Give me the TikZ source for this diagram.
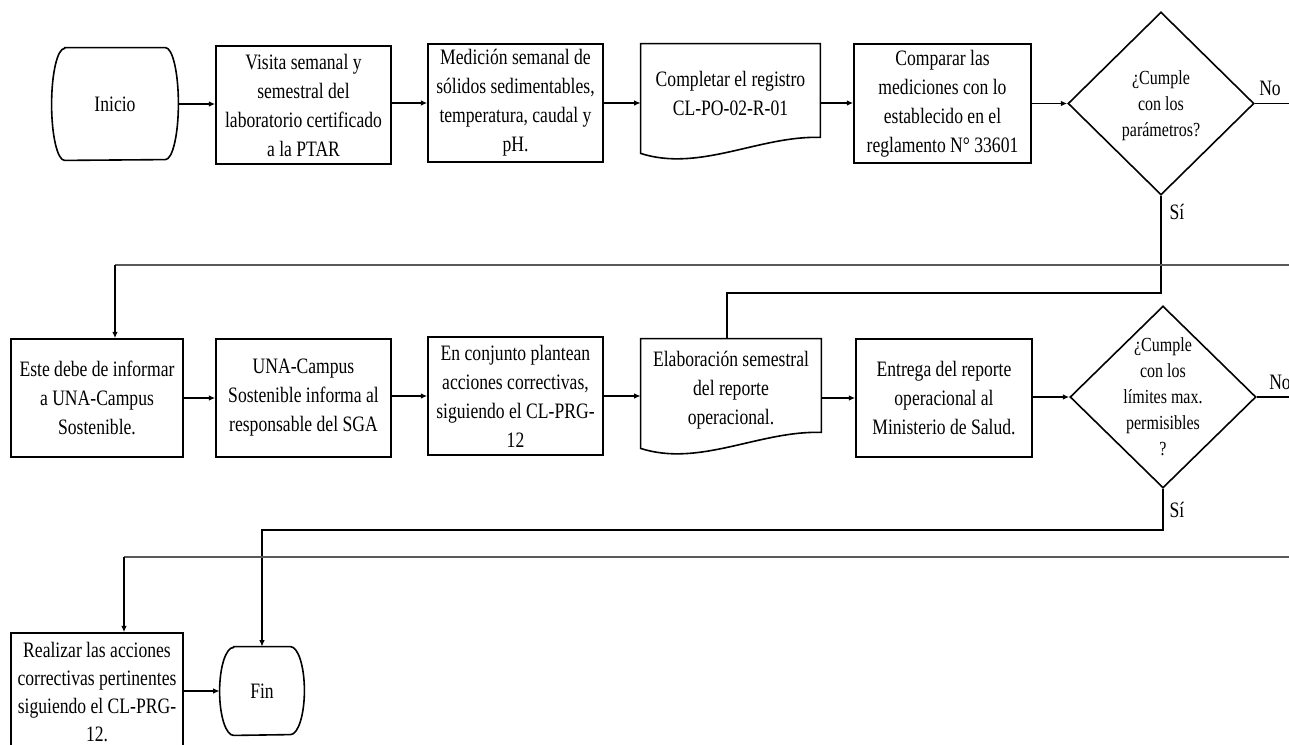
\documentclass[tikz,border=0pt]{standalone}
\usepackage{fontspec}
\setmainfont{Liberation Serif}[FakeStretch=0.8]
\usetikzlibrary{arrows.meta,shapes.geometric}
\newcommand\bxfont{\fontsize{11}{14.5}\selectfont}
\newcommand\dmfont{\fontsize{10}{13}\selectfont}
\tikzset{
  outl/.style={draw, line width=0.8pt},
  box/.style={outl, minimum width=87.5pt, minimum height=59pt, inner sep=0pt, align=center, font=\bxfont},
  hold/.style={minimum width=89.5pt, minimum height=59pt, inner sep=0pt},
  term/.style={inner sep=0pt, font=\bxfont},
  dec/.style={outl, diamond, minimum width=93pt, minimum height=91pt, inner sep=0pt},
  dtxt/.style={align=center, font=\dmfont, inner sep=0pt},
  doctxt/.style={align=center, font=\bxfont, inner sep=0pt, yshift=5pt},
  lbl/.style={font=\bxfont, inner sep=0pt},
  conn/.style={line width=0.7pt},
  arr/.style={conn, -{Latex[length=3.2pt,width=2.8pt]}},
  back/.style={line width=0.9pt, black!65},
}
\begin{document}
\begin{tikzpicture}[x=0.5pt,y=-0.5pt]
\useasboundingbox (0,0) rectangle (1289,744);
\clip (0,0) rectangle (1289,744);

% ---- first row ----
\node[term, minimum width=63pt, minimum height=56pt] (inicio) at (115,104) {Inicio};
\draw[outl] ([xshift=6.5pt]inicio.north west) -- ([xshift=-6.5pt]inicio.north east)
  arc[start angle=90, end angle=-90, x radius=6.5pt, y radius=28pt]
  -- ([xshift=6.5pt]inicio.south west)
  arc[start angle=270, end angle=90, x radius=6.5pt, y radius=28pt] -- cycle;

\node[box] (visita) at (303.5,105) {Visita semanal y\\semestral del\\laboratorio certificado\\a la PTAR};
\node[box] (medicion) at (515.5,103) {Medición semanal de\\sólidos sedimentables,\\temperatura, caudal y\\pH.};

\node[hold, label={[doctxt, name=registrotxt]center:{Completar el registro\\CL-PO-02-R-01}}] (registro) at (730.5,103) {};
\draw[outl] ([yshift=4.5pt]registro.south west) -- (registro.north west) -- (registro.north east)
  -- ([yshift=12.5pt]registro.south east)
  .. controls ([xshift=59.5pt,yshift=13.5pt]registro.south west) and ([xshift=29.5pt,yshift=-5pt]registro.south west)
  .. ([yshift=4.5pt]registro.south west) -- cycle;

\node[box, minimum width=88.5pt, minimum height=59.5pt] (comparar) at (942.5,103.5) {Comparar las\\mediciones con lo\\establecido en el\\reglamento N° 33601};

\node[dec, minimum height=91.5pt, label={[dtxt, yshift=-1pt, name=dec1txt]center:{¿Cumple\\con los\\parámetros?}}] (dec1) at (1161,103.5) {};
\node[lbl] (no1) at (1270,88) {No};
\node[lbl] (si1) at (1177,212) {Sí};

% ---- second row ----
\node[box, minimum width=86pt] (informar) at (97,398) {Este debe de informar\\a UNA-Campus\\Sostenible.};
\node[box] (campus) at (303.5,398) {UNA-Campus\\Sostenible informa al\\responsable del SGA};
\node[box] (conjunto) at (515.5,396) {En conjunto plantean\\acciones correctivas,\\siguiendo el CL-PRG-\\12};

\node[hold, minimum width=90pt, label={[doctxt, yshift=-1pt, name=reportetxt]center:{Elaboración semestral\\del reporte\\operacional.}}] (reporte) at (731,398) {};
\draw[outl] ([yshift=4.5pt]reporte.south west) -- (reporte.north west) -- (reporte.north east)
  -- ([yshift=12.5pt]reporte.south east)
  .. controls ([xshift=59.5pt,yshift=13.5pt]reporte.south west) and ([xshift=29.5pt,yshift=-5pt]reporte.south west)
  .. ([yshift=4.5pt]reporte.south west) -- cycle;

\node[box, minimum width=88pt] (entrega) at (944,398) {Entrega del reporte\\operacional al\\Ministerio de Salud.};

\node[dec, label={[dtxt, name=dec2txt]center:{¿Cumple\\con los\\límites max.\\permisibles\\?}}] (dec2) at (1163,397) {};
\node[lbl] (no2) at (1280,382) {No};
\node[lbl] (si2) at (1177,510) {Sí};

% ---- third row ----
\node[box, minimum width=86pt, minimum height=59pt, font=\fontsize{11}{14}\selectfont] (realizar) at (97,692) {Realizar las acciones\\correctivas pertinentes\\siguiendo el CL-PRG-\\12.};
\node[term, minimum width=42pt, minimum height=44pt] (fin) at (262,691) {Fin};
\draw[outl] ([xshift=7pt]fin.north west) -- ([xshift=-7pt]fin.north east)
  arc[start angle=90, end angle=-90, x radius=7pt, y radius=22pt]
  -- ([xshift=7pt]fin.south west)
  arc[start angle=270, end angle=90, x radius=7pt, y radius=22pt] -- cycle;

% ---- routing points ----
\coordinate (edge1) at (1300,104);
\coordinate (edge2) at (1300,397);
\coordinate (ret1) at (1300,265);
\coordinate (ret2) at (1300,557);
\coordinate (yes1) at (1162,293);
\coordinate (yes2) at (1163,530);

% ---- connectors, first row ----
\draw[arr] (inicio.east) -- (inicio.east -| visita.west);
\draw[arr] (visita.east |- medicion.west) -- (medicion.west);
\draw[arr] (medicion.east) -- (medicion.east -| registro.west);
\draw[arr] (registro.east) -- (registro.east -| comparar.west);
\draw[arr] (comparar.east |- dec1.west) -- (dec1.west);
\draw[conn] (dec1.east) -- (dec1.east -| edge1);
\draw[conn] (dec1.south) -- (dec1.south |- yes1) -| ([xshift=-2pt]reporte.north);

% ---- connectors, second row ----
\draw[back] (ret1) -- ([xshift=9pt]informar.north |- ret1);
\draw[arr] ([xshift=9pt]informar.north |- ret1) -- ([xshift=9pt]informar.north);
\draw[arr] (informar.east |- campus.west) -- (campus.west);
\draw[arr] (campus.east |- conjunto.east) -- (conjunto.west |- conjunto.east);
\draw[arr] (conjunto.east) -- (conjunto.east -| reporte.west);
\draw[arr] (reporte.east) -- (reporte.east -| entrega.west);
\draw[arr] (entrega.east |- dec2.west) -- (dec2.west);
\draw[conn] (dec2.east) -- (dec2.east -| edge2);
\draw[arr] (dec2.south) -- (dec2.south |- yes2) -| (fin.north);

% ---- connectors, third row ----
\draw[back] (ret2) -- ([xshift=13.5pt]realizar.north |- ret2);
\draw[arr] ([xshift=13.5pt]realizar.north |- ret2) -- ([xshift=13.5pt]realizar.north);
\draw[arr] (realizar.east |- fin.west) -- (fin.west);
\end{tikzpicture}
\end{document}
